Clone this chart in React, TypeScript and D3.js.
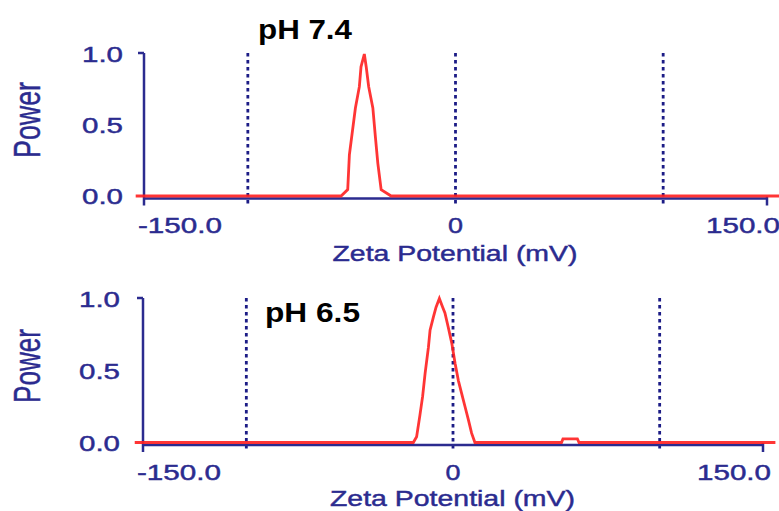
import React from "react";
import * as d3 from "d3";

// ---- data ----
const TOP_LABEL = "pH 7.4";
const BOTTOM_LABEL = "pH 6.5";
const X_LABEL = "Zeta Potential (mV)";
const Y_LABEL = "Power";

const X_TICKS = [-150, 0, 150];
const X_TICK_LABELS = ["-150.0", "0", "150.0"];
const Y_TICKS = [0, 0.5, 1];
const Y_TICK_LABELS = ["0.0", "0.5", "1.0"];
const GRID_LINES = [-100, 0, 100];

// pH 7.4 distribution (mV, power)
const TOP_MV = [-154, -55.1, -51.9, -51.1, -48.2, -46.3, -45.5, -43.9, -43.0, -41.8, -39.8, -38.6, -37.4, -35.8, -31.0, 156];
const TOP_POWER = [0, 0, 0.045, 0.29, 0.62, 0.77, 0.91, 1.0, 0.91, 0.77, 0.62, 0.42, 0.23, 0.045, 0, 0];

// pH 6.5 distribution (mV, power)
const BOT_MV = [-154, -19.2, -17.6, -16.0, -14.7, -13.5, -11.9, -11.1, -9.5, -8.2, -6.6, -5.0, -3.9, -2.3, -0.6, 1.0, 2.6, 4.2, 5.8, 7.4, 9.0, 10.6, 52.5, 53.2, 60.2, 61, 156];
const BOT_POWER = [0, 0, 0.04, 0.19, 0.32, 0.48, 0.66, 0.78, 0.87, 0.94, 1.0, 0.94, 0.9, 0.8, 0.69, 0.55, 0.43, 0.34, 0.25, 0.16, 0.065, 0, 0, 0.025, 0.025, 0, 0];

const NAVY = "#2b2b8f";
const DOT = "#1c1c86";
const RED = "#ff1f1f";
const FONT = "'Liberation Sans', Arial, Helvetica, sans-serif";

type Panel = {
  mv: number[];
  power: number[];
  label: string;
  labelX: number;
  labelBase: number;
  labelLen: number;
  x0: number;
  x1: number;
  zeroY: number;
  oneY: number;
  axisY: number;
  yTop: number;
  yLabelRight: number;
  xLabelBase: number;
  titleBase: number;
  powerCy: number;
  powerLen: number;
  lastLabelRight: number;
};

const panels: Panel[] = [
  {
    mv: TOP_MV, power: TOP_POWER, label: TOP_LABEL, labelX: 258, labelBase: 39, labelLen: 94,
    x0: 144, x1: 767, zeroY: 196, oneY: 54, axisY: 198.5, yTop: 53, yLabelRight: 123,
    xLabelBase: 233, titleBase: 261, powerCy: 120, powerLen: 76, lastLabelRight: 780,
  },
  {
    mv: BOT_MV, power: BOT_POWER, label: BOTTOM_LABEL, labelX: 265, labelBase: 322, labelLen: 95,
    x0: 143, x1: 763, zeroY: 442.5, oneY: 298.5, axisY: 445, yTop: 298, yLabelRight: 120,
    xLabelBase: 480, titleBase: 506, powerCy: 366, powerLen: 74, lastLabelRight: 771,
  },
];

function PanelView({ p }: { p: Panel }) {
  const x = d3.scaleLinear().domain([-150, 150]).range([p.x0, p.x1]);
  const y = d3.scaleLinear().domain([0, 1]).range([p.zeroY, p.oneY]);
  const pts: [number, number][] = p.mv.map((m, i) => [m, p.power[i]]);
  const line = d3.line<[number, number]>().x((d) => x(d[0])).y((d) => y(d[1]));
  const tickW: Record<string, number> = { "-150.0": 84, "0": 15, "150.0": 74 };
  const txt = { fontFamily: FONT, fill: NAVY, stroke: NAVY, strokeWidth: 0.45 } as const;
  return (
    <g>
      {/* grid dotted lines */}
      {GRID_LINES.map((g) => (
        <line key={g} x1={x(g)} x2={x(g)} y1={p.yTop} y2={p.axisY + 7} stroke={DOT} strokeWidth={2.8} strokeDasharray="3.5,3.5" />
      ))}
      {/* axes */}
      <line x1={p.x0} x2={p.x0} y1={p.yTop} y2={p.axisY + 7} stroke={NAVY} strokeWidth={2.5} />
      <line x1={p.x0 - 6} x2={p.x0} y1={p.yTop} y2={p.yTop} stroke={NAVY} strokeWidth={2.5} />
      <line x1={p.x0} x2={p.x1} y1={p.axisY} y2={p.axisY} stroke={NAVY} strokeWidth={2.5} />
      <line x1={p.x1} x2={p.x1} y1={p.axisY - 2} y2={p.axisY + 7} stroke={NAVY} strokeWidth={2.5} />
      {/* data */}
      <path d={line(pts) || ""} fill="none" stroke={RED} strokeWidth={2.8} strokeLinejoin="miter" opacity={0.9} />
      {/* y tick labels */}
      {Y_TICKS.map((t, i) => (
        <text key={t} x={p.yLabelRight} y={y(t) + 8} textAnchor="end" fontSize={22} {...txt}
          textLength={41} lengthAdjust="spacingAndGlyphs">{Y_TICK_LABELS[i]}</text>
      ))}
      {/* x tick labels */}
      {X_TICKS.map((t, i) => {
        const lab = X_TICK_LABELS[i];
        const w = tickW[lab];
        let left: number;
        if (i === 0) left = x(t) - 6;
        else if (i === X_TICKS.length - 1) left = p.lastLabelRight - w;
        else left = x(t) - w / 2;
        return (
          <text key={t} x={left} y={p.xLabelBase} fontSize={22} {...txt}
            textLength={w} lengthAdjust="spacingAndGlyphs">{lab}</text>
        );
      })}
      {/* x title */}
      <text x={x(0) - 123} y={p.titleBase} fontSize={22.5} {...txt}
        textLength={245} lengthAdjust="spacingAndGlyphs">{X_LABEL}</text>
      {/* y title */}
      <text transform={`translate(39.5,${p.powerCy}) rotate(-90)`} textAnchor="middle" fontSize={36} {...txt}
        textLength={p.powerLen} lengthAdjust="spacingAndGlyphs">{Y_LABEL}</text>
      {/* panel label */}
      <text x={p.labelX} y={p.labelBase} fontFamily={FONT} fontWeight="bold" fontSize={27} fill="#000"
        textLength={p.labelLen} lengthAdjust="spacingAndGlyphs">{p.label}</text>
    </g>
  );
}

export default function App() {
  return (
    <svg width={779} height={511} viewBox="0 0 779 511"
      style={{ position: "absolute", left: 0, top: 0, background: "#fff" }}>
      <rect width={779} height={511} fill="#fff" />
      {panels.map((p, i) => (
        <PanelView key={i} p={p} />
      ))}
    </svg>
  );
}
